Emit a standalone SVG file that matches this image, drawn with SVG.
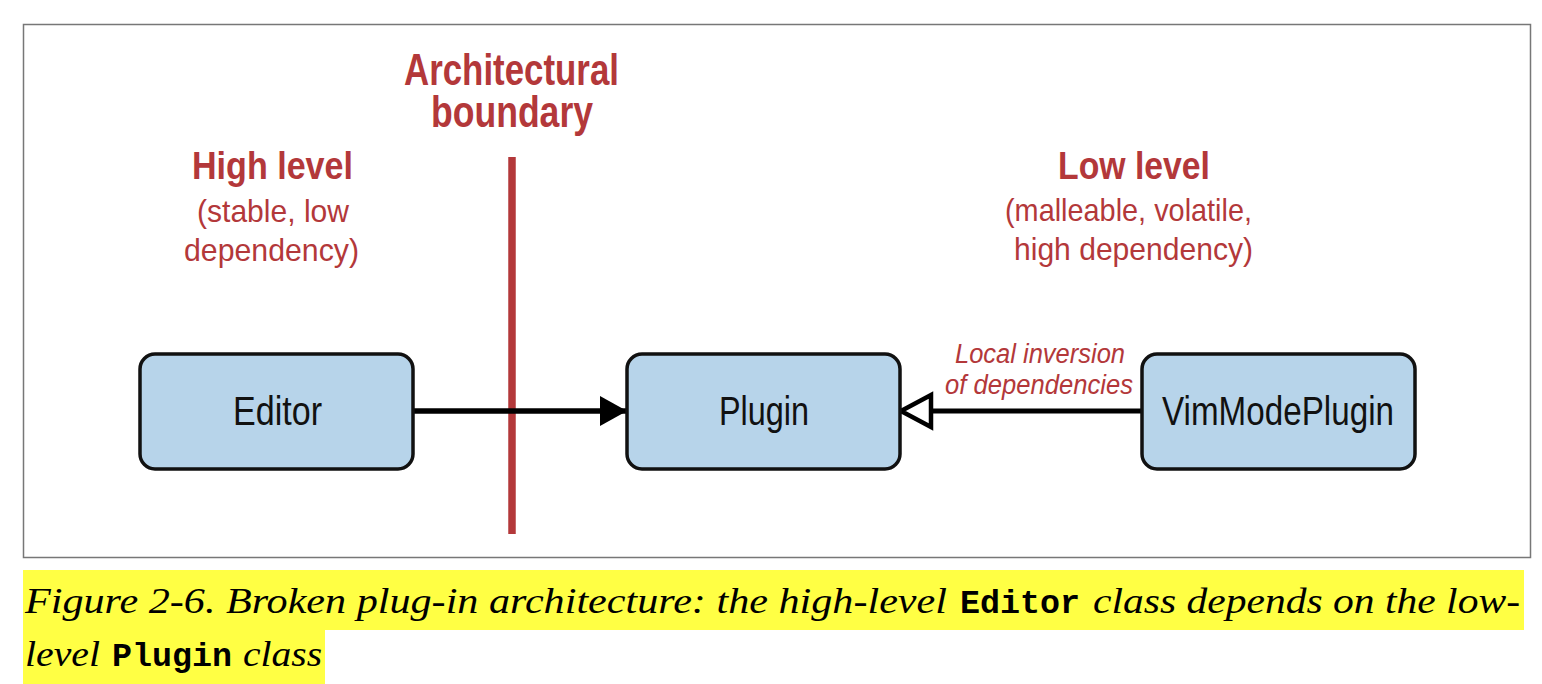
<svg xmlns="http://www.w3.org/2000/svg" width="1542" height="684" viewBox="0 0 1542 684">
<style>
.red{fill:#b3383a;font-family:"Liberation Sans",Arial,sans-serif}
.h{font-weight:bold}
.node rect{fill:#b7d4ea;stroke:#111;stroke-width:3.5}
.node text{fill:#111;font-family:"Liberation Sans",Arial,sans-serif;font-size:41px}
.cap{font-family:"Liberation Serif","Times New Roman",serif;font-style:italic;font-size:36px;fill:#000}
.mono{font-family:"Liberation Mono","Courier New",monospace;font-size:33px;font-weight:bold;fill:#000}
</style>
<defs>
<marker id="solid" markerUnits="userSpaceOnUse" markerWidth="30" markerHeight="32" refX="27" refY="16" orient="auto">
<path d="M0,1 L27,16 L0,31 Z" fill="#000"/>
</marker>
<marker id="hollow" markerUnits="userSpaceOnUse" markerWidth="40" markerHeight="40" refX="34" refY="20" orient="auto">
<path d="M34,20 L4,4 L4,36 Z" fill="#fff" stroke="#000" stroke-width="4.5" stroke-linejoin="miter"/>
</marker>
</defs>
<rect x="0" y="0" width="1542" height="684" fill="#fff"/>
<rect x="23.5" y="24.5" width="1507" height="533" fill="#fff" stroke="#777" stroke-width="1.5"/>
<g id="boundary">
<line x1="512" y1="157" x2="512" y2="534" stroke="#b3383a" stroke-width="7.5"/>
<text class="red h" x="404" y="85" font-size="44" textLength="215" lengthAdjust="spacingAndGlyphs">Architectural</text>
<text class="red h" x="431" y="127" font-size="44" textLength="162" lengthAdjust="spacingAndGlyphs">boundary</text>
</g>
<g id="high-level">
<text class="red h" x="192" y="179" font-size="38" textLength="161" lengthAdjust="spacingAndGlyphs">High level</text>
<text class="red" x="197" y="222" font-size="32" textLength="152" lengthAdjust="spacingAndGlyphs">(stable, low</text>
<text class="red" x="184" y="261" font-size="32" textLength="175" lengthAdjust="spacingAndGlyphs">dependency)</text>
</g>
<g id="low-level">
<text class="red h" x="1058" y="179" font-size="38" textLength="152" lengthAdjust="spacingAndGlyphs">Low level</text>
<text class="red" x="1005" y="221" font-size="32" textLength="247" lengthAdjust="spacingAndGlyphs">(malleable, volatile,</text>
<text class="red" x="1014" y="260" font-size="32" textLength="239" lengthAdjust="spacingAndGlyphs">high dependency)</text>
</g>
<g id="connectors">
<line x1="414" y1="411" x2="627" y2="411" stroke="#000" stroke-width="5.5" marker-end="url(#solid)"/>
<line x1="1141" y1="411" x2="901" y2="411" stroke="#000" stroke-width="5" marker-end="url(#hollow)"/>
<text class="red" x="955" y="363" font-size="27" font-style="italic" textLength="170" lengthAdjust="spacingAndGlyphs">Local inversion</text>
<text class="red" x="945" y="394" font-size="27" font-style="italic" textLength="188" lengthAdjust="spacingAndGlyphs">of dependencies</text>
</g>
<g id="editor" class="node">
<rect x="140" y="354" width="273" height="115" rx="15"/>
<text x="233" y="425" textLength="89" lengthAdjust="spacingAndGlyphs">Editor</text>
</g>
<g id="plugin" class="node">
<rect x="627" y="354" width="273" height="115" rx="15"/>
<text x="719" y="425" textLength="90" lengthAdjust="spacingAndGlyphs">Plugin</text>
</g>
<g id="vimmodeplugin" class="node">
<rect x="1142" y="354" width="273" height="115" rx="15"/>
<text x="1162" y="425" textLength="232" lengthAdjust="spacingAndGlyphs">VimModePlugin</text>
</g>
<g id="caption">
<rect x="23" y="570" width="1501" height="60" fill="#ffff44"/>
<rect x="23" y="629" width="302" height="55" fill="#ffff44"/>
<text class="cap" x="25" y="613" textLength="922" lengthAdjust="spacingAndGlyphs">Figure 2-6. Broken plug-in architecture: the high-level</text>
<text class="mono" x="960" y="613" textLength="120" lengthAdjust="spacingAndGlyphs">Editor</text>
<text class="cap" x="1093" y="613" textLength="427" lengthAdjust="spacingAndGlyphs">class depends on the low-</text>
<text class="cap" x="25" y="666" textLength="75" lengthAdjust="spacingAndGlyphs">level</text>
<text class="mono" x="112" y="666" textLength="120" lengthAdjust="spacingAndGlyphs">Plugin</text>
<text class="cap" x="243" y="666" textLength="79" lengthAdjust="spacingAndGlyphs">class</text>
</g>
</svg>
